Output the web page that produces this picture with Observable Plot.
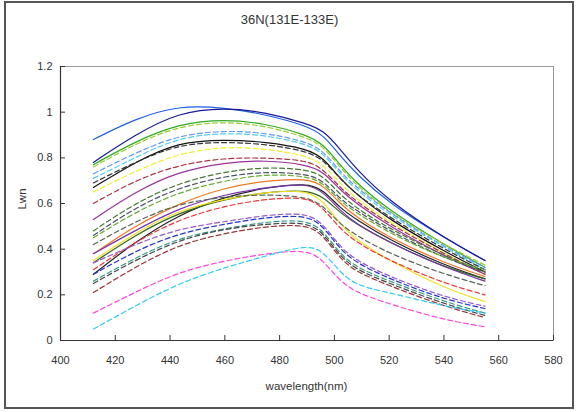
<!DOCTYPE html>
<html><head><meta charset="utf-8">
<script src="https://cdn.jsdelivr.net/npm/d3@7"></script>
<script src="https://cdn.jsdelivr.net/npm/@observablehq/plot@0.6"></script>
<style>
body{margin:0;background:#fff;font-family:"Liberation Sans",Arial,sans-serif;}
#wrap{position:relative;width:579px;height:412px;overflow:hidden;background:#fff}
#frame{position:absolute;left:4px;top:1px;width:566px;height:404px;border:2px solid #555;pointer-events:none}
#title{position:absolute;left:0;width:579px;top:12px;text-align:center;font-size:13px;color:#333}
#xlab{position:absolute;left:60px;width:493px;top:380px;text-align:center;font-size:11.5px;color:#333}
#ylab{position:absolute;left:2px;top:193px;width:40px;text-align:center;font-size:11.5px;color:#333;transform:rotate(-90deg)}
#chart{position:absolute;left:0;top:0}
</style></head>
<body>
<div id="wrap">
  <div id="chart"></div>
  <div id="title">36N(131E-133E)</div>
  <div id="xlab">wavelength(nm)</div>
  <div id="ylab">Lwn</div>
  <div id="frame"></div>
</div>
<script>
const wavelengths = [412, 427, 443, 460, 475, 490, 496, 502, 508, 520, 540, 555];
const xTicks = [400, 420, 440, 460, 480, 500, 520, 540, 560, 580];
const yTicks = [0, 0.2, 0.4, 0.6, 0.8, 1.0, 1.2];

const seriesColors = [
  "#2060e0", "#1a1a99", "#33aa22", "#99cc33", "#6699ee", "#55ccee", "#111111",
  "#333333", "#eeee33", "#aa3344", "#993399", "#447733", "#445566", "#66aa33",
  "#ee7722", "#222222", "#336622", "#7733aa", "#f0e020", "#556655", "#ee3333",
  "#9955cc", "#2233cc", "#339988", "#444444", "#993333", "#ff44dd", "#33ccee"
];
const seriesDashed = [
  false, false, false, true, true, true, false,
  true, true, true, false, true, true, true,
  false, false, false, false, false, true, true,
  true, true, true, true, true, true, true
];
const s01 = [0.88, 0.97, 1.03, 1.02, 0.99, 0.94, 0.90, 0.81, 0.73, 0.60, 0.45, 0.35];
const s02 = [0.78, 0.90, 1.00, 1.02, 1.00, 0.95, 0.92, 0.84, 0.75, 0.61, 0.45, 0.35];
const s03 = [0.77, 0.87, 0.95, 0.97, 0.95, 0.90, 0.86, 0.77, 0.69, 0.57, 0.42, 0.32];
const s04 = [0.76, 0.86, 0.94, 0.96, 0.94, 0.89, 0.85, 0.76, 0.68, 0.56, 0.42, 0.33];
const s05 = [0.73, 0.82, 0.90, 0.92, 0.91, 0.87, 0.83, 0.74, 0.67, 0.56, 0.41, 0.32];
const s06 = [0.71, 0.80, 0.89, 0.91, 0.90, 0.86, 0.82, 0.73, 0.66, 0.55, 0.41, 0.31];
const s07 = [0.67, 0.78, 0.87, 0.88, 0.87, 0.84, 0.80, 0.71, 0.64, 0.53, 0.39, 0.30];
const s08 = [0.69, 0.78, 0.86, 0.87, 0.86, 0.83, 0.79, 0.71, 0.64, 0.54, 0.40, 0.31];
const s09 = [0.65, 0.74, 0.82, 0.85, 0.84, 0.81, 0.77, 0.69, 0.62, 0.52, 0.38, 0.29];
const s10 = [0.60, 0.70, 0.77, 0.80, 0.80, 0.79, 0.75, 0.67, 0.61, 0.51, 0.38, 0.29];
const s11 = [0.53, 0.65, 0.74, 0.78, 0.79, 0.77, 0.74, 0.66, 0.60, 0.50, 0.37, 0.29];
const s12 = [0.48, 0.60, 0.69, 0.74, 0.76, 0.75, 0.72, 0.64, 0.58, 0.49, 0.37, 0.30];
const s13 = [0.46, 0.58, 0.67, 0.72, 0.74, 0.73, 0.70, 0.62, 0.57, 0.48, 0.36, 0.30];
const s14 = [0.45, 0.56, 0.65, 0.70, 0.73, 0.72, 0.69, 0.61, 0.56, 0.47, 0.36, 0.31];
const s15 = [0.38, 0.50, 0.60, 0.67, 0.70, 0.71, 0.68, 0.60, 0.54, 0.45, 0.34, 0.28];
const s16 = [0.29, 0.43, 0.55, 0.63, 0.67, 0.69, 0.66, 0.58, 0.53, 0.44, 0.33, 0.27];
const s17 = [0.34, 0.46, 0.56, 0.62, 0.65, 0.66, 0.63, 0.56, 0.51, 0.43, 0.32, 0.27];
const s18 = [0.38, 0.48, 0.58, 0.64, 0.67, 0.69, 0.65, 0.57, 0.51, 0.43, 0.32, 0.26];
const s19 = [0.35, 0.47, 0.57, 0.62, 0.65, 0.66, 0.61, 0.51, 0.44, 0.35, 0.23, 0.17];
const s20 = [0.42, 0.52, 0.60, 0.63, 0.64, 0.63, 0.59, 0.51, 0.46, 0.38, 0.29, 0.24];
const s21 = [0.31, 0.43, 0.53, 0.59, 0.62, 0.63, 0.58, 0.49, 0.43, 0.35, 0.25, 0.20];
const s22 = [0.34, 0.42, 0.49, 0.52, 0.55, 0.56, 0.51, 0.41, 0.35, 0.28, 0.19, 0.15];
const s23 = [0.29, 0.39, 0.47, 0.51, 0.54, 0.55, 0.50, 0.40, 0.34, 0.27, 0.18, 0.14];
const s24 = [0.26, 0.36, 0.45, 0.49, 0.52, 0.53, 0.48, 0.38, 0.32, 0.26, 0.17, 0.12];
const s25 = [0.25, 0.35, 0.44, 0.49, 0.51, 0.52, 0.47, 0.37, 0.31, 0.25, 0.16, 0.11];
const s26 = [0.21, 0.32, 0.42, 0.47, 0.50, 0.51, 0.46, 0.36, 0.30, 0.24, 0.15, 0.10];
const s27 = [0.12, 0.21, 0.30, 0.35, 0.38, 0.40, 0.35, 0.26, 0.21, 0.16, 0.09, 0.06];
const s28 = [0.05, 0.15, 0.25, 0.32, 0.37, 0.42, 0.39, 0.30, 0.24, 0.21, 0.15, 0.12];
const seriesValues = [s01,s02,s03,s04,s05,s06,s07,s08,s09,s10,s11,s12,s13,s14,
                      s15,s16,s17,s18,s19,s20,s21,s22,s23,s24,s25,s26,s27,s28];

const lineMarks = seriesValues.map((vals, i) =>
  Plot.line(wavelengths.map((w, j) => ({w, v: vals[j]})), {
    x: "w", y: "v", stroke: seriesColors[i], strokeWidth: 1.2,
    strokeDasharray: seriesDashed[i] ? "5,3" : null, curve: "basis"
  })
);

const chart = Plot.plot({
  width: 579, height: 412,
  marginTop: 66, marginLeft: 60, marginRight: 26, marginBottom: 72,
  x: {domain: [400, 580]},
  y: {domain: [0, 1.2]},
  style: {fontSize: "11px", fontFamily: "Liberation Sans, Arial, sans-serif", color: "#333", background: "transparent"},
  marks: [
    Plot.frame({stroke: "#999"}),
    ...lineMarks,
    Plot.ruleX([400], {stroke: "#333", strokeWidth: 1.2}),
    Plot.ruleY([0], {stroke: "#333", strokeWidth: 1.2}),
    Plot.tickX(xTicks, {x: d => d, insetTop: 269, stroke: "#333"}),
    Plot.tickY(yTicks, {y: d => d, insetRight: 488, stroke: "#333"}),
    Plot.axisX({ticks: xTicks, tickSize: 0, tickPadding: 16, label: null}),
    Plot.axisY({ticks: yTicks, tickSize: 0, tickPadding: 8, label: null, tickFormat: d => String(+d.toFixed(1))})
  ]
});
document.getElementById("chart").appendChild(chart);
</script>
</body></html>
